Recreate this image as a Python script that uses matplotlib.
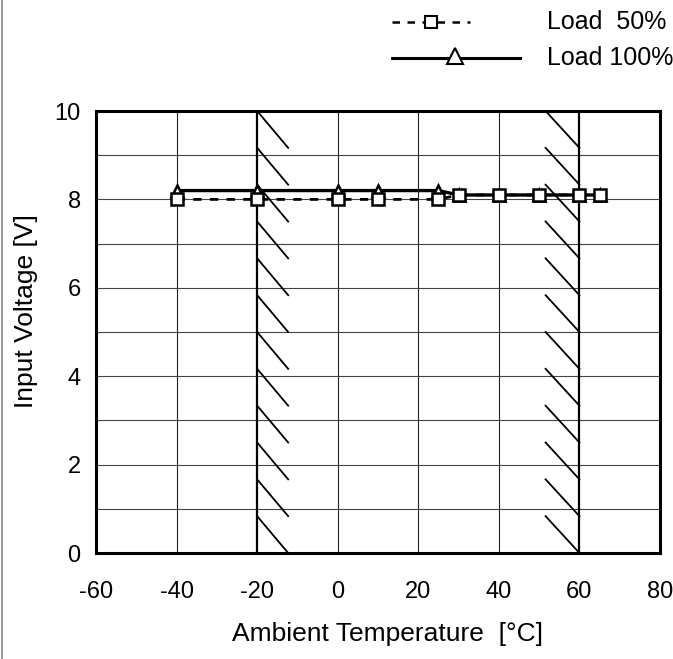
import matplotlib
matplotlib.use("Agg")
import matplotlib.pyplot as plt
from matplotlib.lines import Line2D

plt.rcParams['font.family'] = ['Liberation Sans', 'DejaVu Sans']
plt.rcParams['axes.unicode_minus'] = False

# Data
temp_50 = [-40, -20, 0, 10, 25, 30, 40, 50, 60, 65]
volt_50 = [8.0, 8.0, 8.0, 8.0, 8.0, 8.1, 8.1, 8.1, 8.1, 8.1]
temp_100 = [-40, -20, 0, 10, 25, 30, 40, 50, 60, 65]
volt_100 = [8.2, 8.2, 8.2, 8.2, 8.2, 8.1, 8.1, 8.1, 8.1, 8.1]
limit_low = -20
limit_high = 60
x_ticks = [-60, -40, -20, 0, 20, 40, 60, 80]
y_ticks = [0, 2, 4, 6, 8, 10]
labels = ["Load  50%", "Load 100%"]

fig = plt.figure(figsize=(6.73, 6.59), dpi=100)
ax = fig.add_axes([96/673, 1-553/659, (660-96)/673, (553-111)/659])

ax.set_xlim(-60, 80)
ax.set_ylim(0, 10)
ax.set_xticks(x_ticks)
ax.set_yticks(y_ticks)
ax.set_yticks(range(0, 11), minor=True)
ax.grid(True, which='both', axis='y', color='#444444', lw=0.8)
for xv in [-40, 0, 20, 40]:
    ax.axvline(xv, color='#222222', lw=0.8, zorder=1)
for xv in [limit_low, limit_high]:
    ax.axvline(xv, color='black', lw=1.6, zorder=2)

# hatch marks at the operating limits
n = 12
h = 10 / n
for i in range(n):
    y0 = 10 - i * h
    y1 = 10 - (i + 1) * h
    ax.plot([limit_low, limit_low + 7.7], [y0, y1], color='black', lw=1.3, zorder=2)
    ax.plot([limit_high - 8.4, limit_high], [y0, y1], color='black', lw=1.3, zorder=2)

ax.tick_params(axis='both', which='both', length=0, labelsize=17)
ax.tick_params(axis='x', pad=20)
ax.tick_params(axis='y', pad=11)
for s in ax.spines.values():
    s.set_linewidth(2.2)

ax.plot(temp_100, volt_100, color='black', lw=2.4, marker='^', ms=9,
        mfc='white', mec='black', mew=1.8, zorder=4)
ax.plot(temp_50, volt_50, color='black', lw=2.0, ls=(0, (3, 3)), marker='s', ms=9,
        mfc='white', mec='black', mew=1.8, zorder=5)

ax.set_xlabel("Ambient Temperature  [°C]", fontsize=19, labelpad=14, x=0.516)
ax.set_ylabel("Input Voltage [V]", fontsize=19, labelpad=12, y=0.548)

# legend drawn in figure coordinates
def fx(p): return p / 673
def fy(p): return 1 - p / 659
fig.add_artist(Line2D([fx(392), fx(470)], [fy(22), fy(22)], color='black', lw=1.8,
                      ls=(0, (3, 3))))
fig.add_artist(Line2D([fx(431)], [fy(22)], marker='s', ms=9, mfc='white', mec='black',
                      mew=1.5, ls='none'))
fig.add_artist(Line2D([fx(392), fx(520)], [fy(58), fy(58)], color='black', lw=2.2))
fig.add_artist(Line2D([fx(455)], [fy(56)], marker='^', ms=11, mfc='white', mec='black',
                      mew=1.5, ls='none'))
fig.text(fx(547), fy(22), labels[0], fontsize=18, va='center', ha='left')
fig.text(fx(547), fy(58), labels[1], fontsize=18, va='center', ha='left')

# scan edge line
fig.add_artist(Line2D([fx(1.5), fx(1.5)], [0, 1], color='#888888', lw=1.2))

fig.savefig("out.png", dpi=100)
